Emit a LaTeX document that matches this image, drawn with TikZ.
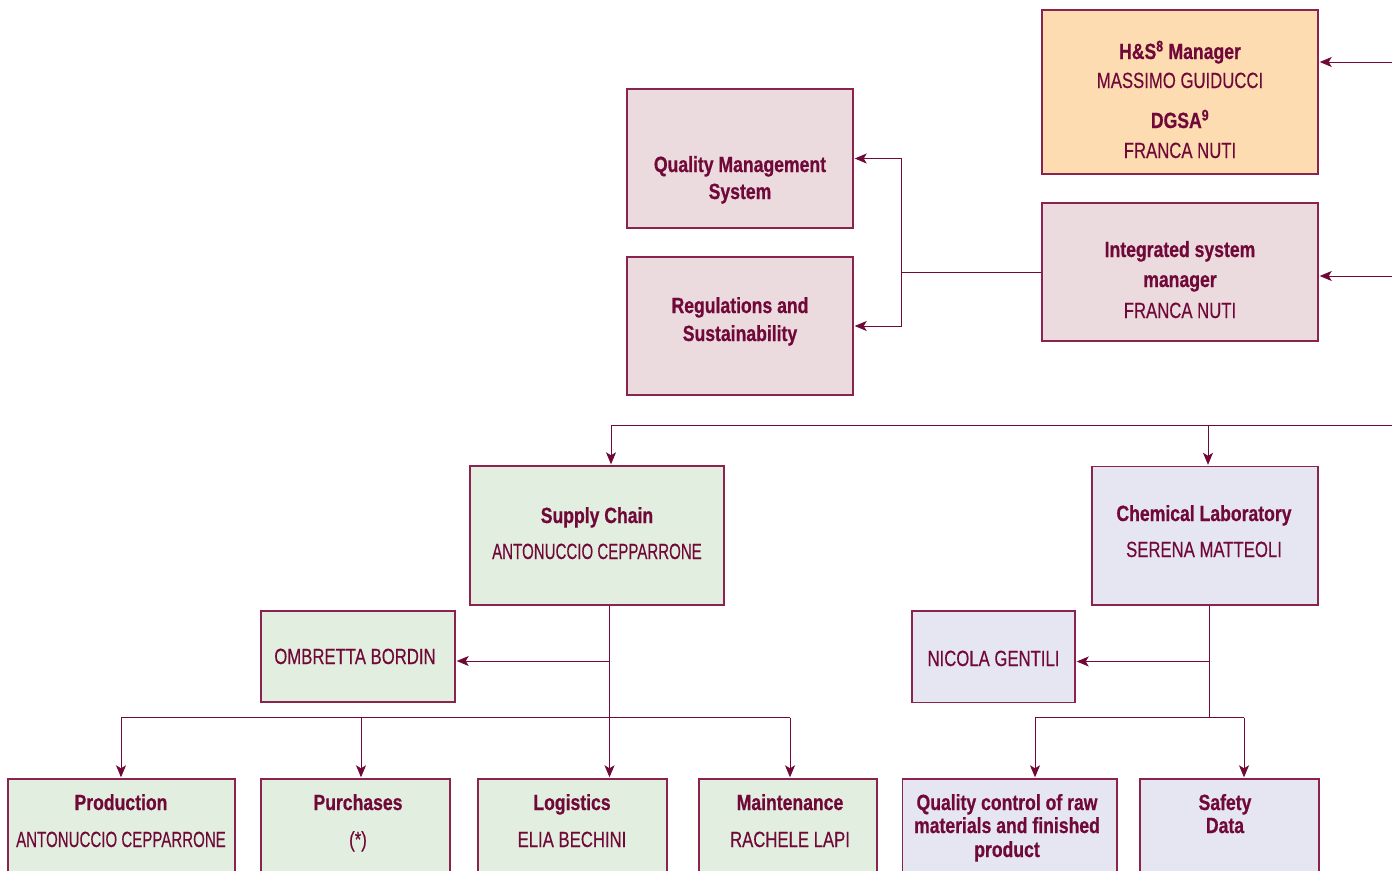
\documentclass[tikz,border=0pt]{standalone}
\usepackage{fontspec}
\setmainfont{Liberation Sans}[FakeStretch=0.76,FakeBold=0.3]
\newfontfamily\narrowf{Liberation Sans}[FakeStretch=0.685,FakeBold=0.3]
\newfontfamily\boldf{Liberation Sans Bold}[FakeStretch=0.80,FakeBold=0.6]
\usetikzlibrary{arrows.meta}
\definecolor{mar}{RGB}{112,8,56}
\definecolor{bordc}{RGB}{138,36,78}
\definecolor{pinkf}{RGB}{235,218,222}
\definecolor{orangef}{RGB}{253,220,178}
\definecolor{greenf}{RGB}{226,239,224}
\definecolor{lavf}{RGB}{230,230,242}
\begin{document}
\begin{tikzpicture}[x=1pt,y=-1pt,
  box/.style={draw=bordc, line width=1.4pt, rectangle, inner sep=0pt},
  txt/.style={text=mar, inner sep=0pt, anchor=base, font=\fontsize{22}{24}\selectfont},
  ntxt/.style={text=mar, inner sep=0pt, anchor=base, font=\narrowf\fontsize{22}{24}\selectfont},
  ttl/.style={text=mar, inner sep=0pt, anchor=base, font=\boldf\fontsize{22}{24}\selectfont},
  conn/.style={draw=mar, line width=1pt},
  arr/.style={conn, -{Stealth[length=12pt,width=10pt,inset=3pt]}, shorten >=1pt}]
\useasboundingbox (0,0) rectangle (1392,870);
\clip (0,0) rectangle (1392,870);
% boxes
\node[box, fill=orangef, minimum width=276pt, minimum height=164pt] (hs) at (1180,92) {};
\node[box, fill=pinkf, minimum width=276pt, minimum height=138pt] (ism) at (1180,272) {};
\node[box, fill=pinkf, minimum width=226pt, minimum height=139pt] (qms) at (740,158.5) {};
\node[box, fill=pinkf, minimum width=226pt, minimum height=138pt] (regs) at (740,326) {};
\node[box, fill=greenf, minimum width=254pt, minimum height=139pt] (sc) at (597,535.5) {};
\node[box, fill=lavf, minimum width=226pt, minimum height=138.5pt] (cl) at (1205,535.75) {};
\node[box, fill=greenf, minimum width=194pt, minimum height=91pt] (omb) at (358,656.5) {};
\node[box, fill=lavf, minimum width=163pt, minimum height=91.5pt] (nic) at (993.5,656.75) {};
\node[box, fill=greenf, minimum width=227pt, minimum height=126pt] (prod) at (121.5,842) {};
\node[box, fill=greenf, minimum width=189pt, minimum height=126pt] (pur) at (355.5,842) {};
\node[box, fill=greenf, minimum width=189pt, minimum height=126pt] (log) at (572.5,842) {};
\node[box, fill=greenf, minimum width=178pt, minimum height=126pt] (mai) at (788,842) {};
\node[box, fill=lavf, minimum width=214.5pt, minimum height=126pt] (qc) at (1009.75,842) {};
\node[box, fill=lavf, minimum width=179pt, minimum height=126pt] (saf) at (1229.5,842) {};
% texts
\node[ttl] (hs1) at (1180,59) {H\&S\textsuperscript{8} Manager};
\node[txt] (hs2) at (1180,88) {MASSIMO GUIDUCCI};
\node[ttl] (hs3) at (1180,128) {DGSA\textsuperscript{9}};
\node[txt] (hs4) at (1180,158) {FRANCA NUTI};
\node[ttl] (ism1) at (1180,257) {Integrated system};
\node[ttl] (ism2) at (1180,287) {manager};
\node[txt] (ism3) at (1180,318) {FRANCA NUTI};
\node[ttl] (qms1) at (740,172) {Quality Management};
\node[ttl] (qms2) at (740,199) {System};
\node[ttl] (regs1) at (740,313) {Regulations and};
\node[ttl] (regs2) at (740,341) {Sustainability};
\node[ttl] (sc1) at (597,523) {Supply Chain};
\node[ntxt] (sc2) at (597,559) {ANTONUCCIO CEPPARRONE};
\node[ttl] (cl1) at (1204,521) {Chemical Laboratory};
\node[txt] (cl2) at (1204,557) {SERENA MATTEOLI};
\node[txt] (omb1) at (355,664) {OMBRETTA BORDIN};
\node[txt] (nic1) at (993.5,666) {NICOLA GENTILI};
\node[ttl] (prod1) at (121,810) {Production};
\node[ntxt] (prod2) at (121,847) {ANTONUCCIO CEPPARRONE};
\node[ttl] (pur1) at (358,810) {Purchases};
\node[txt] (pur2) at (358,847) {(*)};
\node[ttl] (log1) at (572,810) {Logistics};
\node[txt] (log2) at (572,847) {ELIA BECHINI};
\node[ttl] (mai1) at (790,810) {Maintenance};
\node[txt] (mai2) at (790,847) {RACHELE LAPI};
\node[ttl] (qc1) at (1007,810) {Quality control of raw};
\node[ttl] (qc2) at (1007,833) {materials and finished};
\node[ttl] (qc3) at (1007,857) {product};
\node[ttl] (saf1) at (1225,810) {Safety};
\node[ttl] (saf2) at (1225,833) {Data};
% connectors (top right)
\coordinate (hsin) at (1400,62);
\coordinate (ismin) at (1400,276);
\draw[arr] (hsin) -- (hsin -| hs.east);
\draw[arr] (ismin) -- (ismin -| ism.east);
\coordinate (qj) at (901.5,272);
\draw[conn] (ism.west) -- (qj);
\draw[arr] (qj) |- (qms.east);
\draw[arr] (qj) |- (regs.east);
% top horizontal
\coordinate (topr) at (1400,425.5);
\coordinate (topl) at (611,425.5);
\coordinate (topc) at (1208,425.5);
\draw[conn] (topr) -- (topl);
\draw[arr] (topl) -- (topl |- sc.north);
\draw[arr] (topc) -- (topc |- cl.north);
% supply chain
\coordinate (scj) at (609.5,717.5);
\coordinate (scm) at (609.5,661);
\coordinate (scl) at (121,717.5);
\coordinate (scr) at (790,717.5);
\coordinate (scp) at (361,717.5);
\draw[conn] (sc.south -| scj) -- (scj);
\draw[arr] (scm) -- (scm -| omb.east);
\draw[conn] (scl) -- (scr);
\draw[arr] (scl) -- (scl |- prod.north);
\draw[arr] (scp) -- (scp |- pur.north);
\draw[arr] (scj) -- (scj |- log.north);
\draw[arr] (scr) -- (scr |- mai.north);
% chemical lab
\coordinate (clj) at (1209,717.5);
\coordinate (clm) at (1209,661.5);
\coordinate (cll) at (1035,717.5);
\coordinate (clr) at (1244,717.5);
\draw[conn] (cl.south -| clj) -- (clj);
\draw[arr] (clm) -- (clm -| nic.east);
\draw[conn] (cll) -- (clr);
\draw[arr] (cll) -- (cll |- qc.north);
\draw[arr] (clr) -- (clr |- saf.north);
\end{tikzpicture}
\end{document}
